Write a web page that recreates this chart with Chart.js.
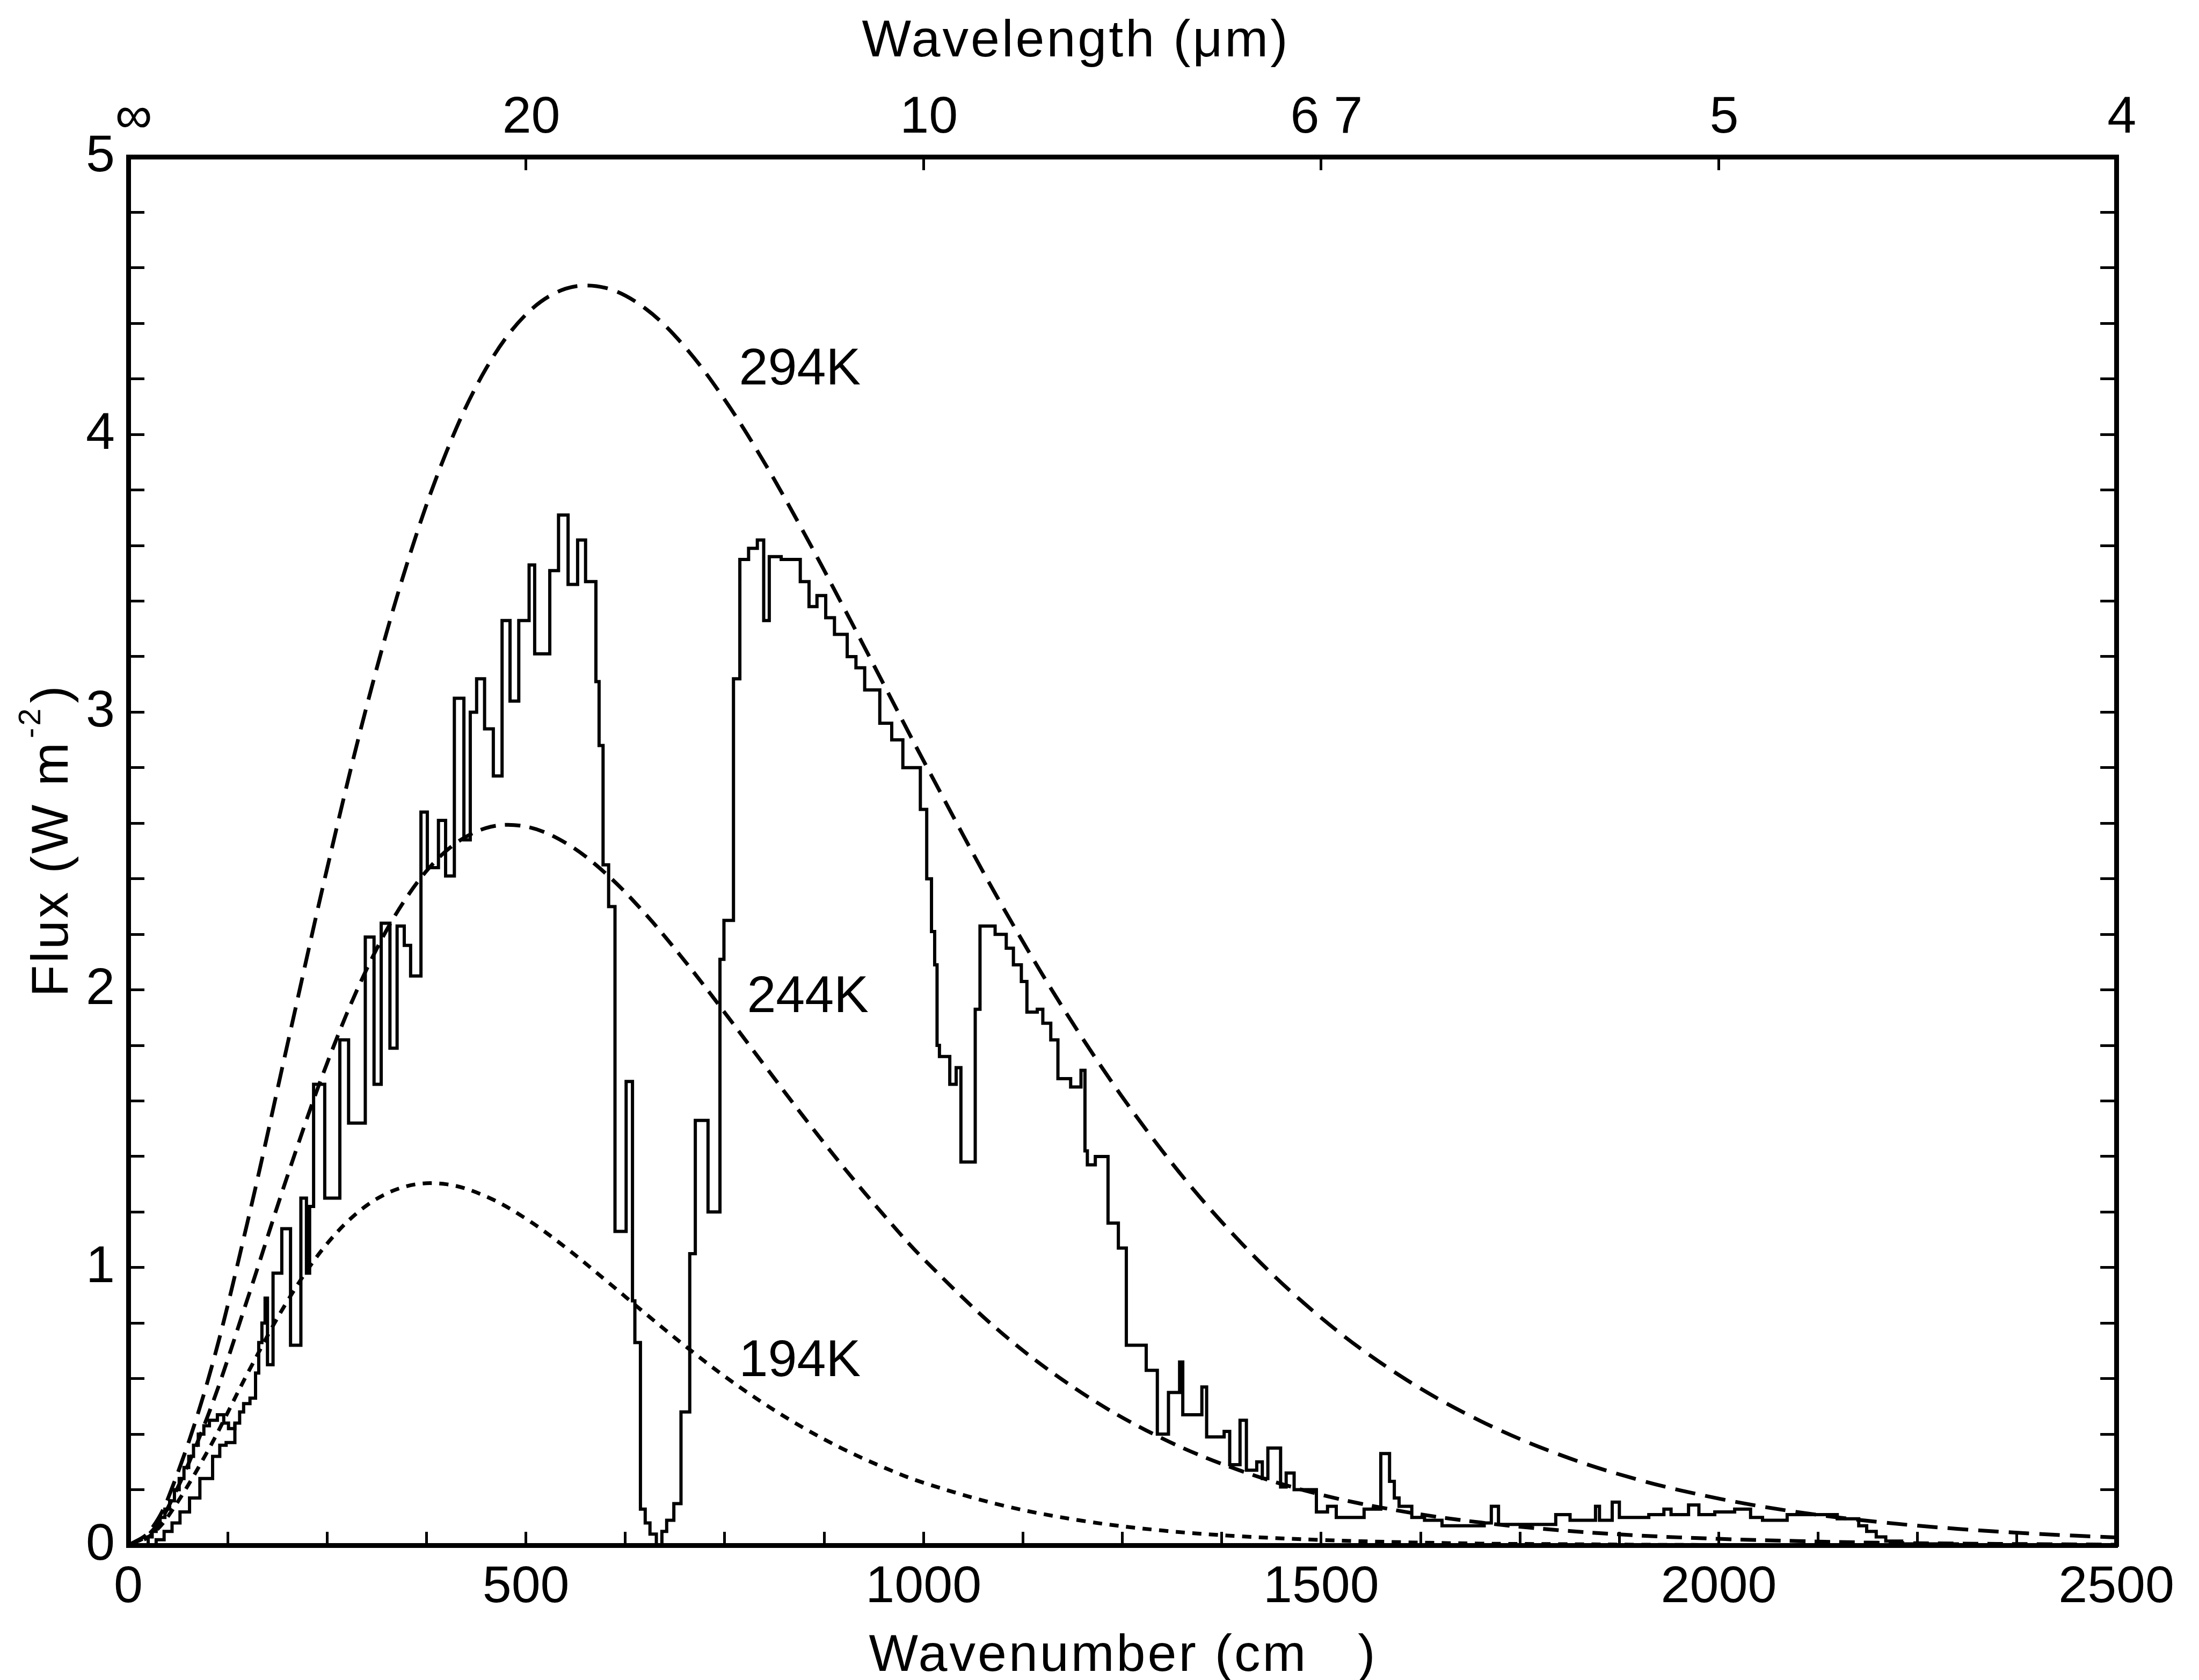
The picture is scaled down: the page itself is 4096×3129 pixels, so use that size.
<!DOCTYPE html>
<html lang="en">
<head>
<meta charset="UTF-8">
<title>Flux spectrum</title>
<script src="https://cdn.jsdelivr.net/npm/chart.js"></script>
<style>
  html, body { margin: 0; padding: 0; background: #fff; overflow: hidden; }
  #wrap { width: 4096px; height: 3129px; }
</style>
</head>
<body>
<div id="wrap"><canvas id="fluxChart" width="4096" height="3129"></canvas></div>
<script>
// measured spectrum, step starts (cm-1) and flux (W m-2)
const specNu = [20,25,30,35,40,46,52,58,64,70,76,82,88,95,102,112,120,126,134,140,
  145,153,160,164,168,172,175,182,193,204,217,224,228,233,247,266,277,298,309,318,
  329,338,347,355,368,376,390,399,410,422,430,438,448,459,470,480,491,504,511,530,
  541,553,565,575,588,592,597,604,612,626,634,637,644,650,656,664,671,677,686,695,
  706,713,729,744,749,761,769,780,791,799,806,821,845,856,866,877,888,904,915,926,
  945,960,974,996,1004,1010,1014,1017,1020,1033,1041,1047,1065,1071,1090,1104,1113,1123,1130,1143,
  1150,1160,1169,1185,1198,1203,1206,1216,1232,1245,1255,1280,1294,1308,1322,1326,1350,1356,1378,1385,
  1398,1406,1419,1426,1433,1449,1456,1466,1494,1508,1519,1554,1575,1586,1592,1598,1614,1630,1652,1705,
  1714,1723,1795,1813,1845,1850,1866,1875,1912,1931,1940,1962,1975,1995,2020,2040,2055,2086,2149,2176,
  2186,2198,2210,2230,2300,2500];
const specFlux = [0,0.03,0.05,0.08,0.10,0.13,0.16,0.20,0.24,0.28,0.32,0.36,0.40,0.43,0.45,0.47,0.44,0.42,0.44,0.48,
  0.51,0.53,0.62,0.73,0.80,0.89,0.65,0.98,1.14,0.72,1.25,0.98,1.22,1.66,1.25,1.82,1.52,2.19,1.66,2.24,
  1.79,2.23,2.16,2.05,2.64,2.44,2.61,2.41,3.05,2.54,3.00,3.12,2.94,2.77,3.33,3.04,3.33,3.53,3.21,3.51,
  3.71,3.46,3.62,3.47,3.11,2.88,2.45,2.30,1.13,1.67,0.88,0.73,0.13,0.08,0.04,0.00,0.05,0.09,0.15,0.48,
  1.05,1.53,1.20,2.11,2.25,3.12,3.55,3.59,3.62,3.33,3.56,3.55,3.47,3.38,3.42,3.34,3.28,3.20,3.16,3.08,
  2.96,2.90,2.80,2.65,2.40,2.21,2.09,1.80,1.76,1.66,1.72,1.38,1.93,2.23,2.20,2.15,2.09,2.03,1.92,1.93,
  1.88,1.82,1.68,1.65,1.71,1.42,1.37,1.40,1.16,1.07,0.72,0.63,0.40,0.55,0.66,0.47,0.57,0.39,0.41,0.29,
  0.45,0.27,0.30,0.24,0.35,0.21,0.26,0.20,0.12,0.14,0.10,0.13,0.33,0.23,0.17,0.14,0.10,0.09,0.07,0.08,
  0.14,0.075,0.11,0.09,0.14,0.09,0.155,0.10,0.11,0.13,0.11,0.145,0.11,0.12,0.13,0.10,0.09,0.11,0.095,0.07,
  0.05,0.03,0.015,0.005,0,0];
// lower branch of the measured trace at small wavenumbers
const specLowNu = [25,35,45,55,65,77,90,106,115,123,134];
const specLowFlux = [0,0.02,0.05,0.08,0.12,0.17,0.24,0.32,0.36,0.37,0.44];

// blackbody curves
const bbNu = [0,25,50,100,150,200,250,300,350,400,450,500,550,600,650,700,750,800,850,900,950,1000,
  1100,1200,1300,1400,1500,1600,1700,1800,1900,2000,2100,2200,2300,2400,2500];
const bb294 = [0,0.045,0.169,0.593,1.165,1.802,2.437,3.024,3.530,3.937,4.238,4.432,4.525,4.528,4.454,4.315,4.125,3.898,3.644,3.375,3.100,2.825,
  2.297,1.825,1.421,1.087,0.819,0.609,0.448,0.326,0.235,0.168,0.119,0.084,0.059,0.041,0.028];
const bb244 = [0,0.037,0.136,0.466,0.888,1.329,1.736,2.076,2.333,2.501,2.583,2.588,2.529,2.420,2.274,2.103,1.918,1.728,1.540,1.359,1.189,1.031,
  0.760,0.547,0.385,0.267,0.182,0.123,0.082,0.054,0.035,0.023,0.015,0.009,0.006,0.004,0.002];
const bb194 = [0,0.029,0.104,0.340,0.619,0.879,1.086,1.224,1.293,1.300,1.256,1.176,1.072,0.955,0.835,0.718,0.608,0.509,0.421,0.345,0.280,0.225,
  0.143,0.088,0.053,0.032,0.019,0.011,0.006,0.004,0.002,0.001,0.001,0,0,0,0];

const bbLabels = ['294K', '244K', '194K'];
const bbLabelNu = [768, 778, 768];
const bbLabelFlux = [4.18, 1.92, 0.61];
const topTickLabels = ['\u221E', '20', '10', '6 7', '5', '4'];

const FONT = '"Liberation Sans", Arial, Helvetica, sans-serif';
Chart.defaults.font.family = FONT;
Chart.defaults.color = '#000';

function pts(xs, ys) {
  return xs.map((x, i) => ({ x: x, y: ys[i] }));
}

const axisFont = { family: FONT, size: 97 };
const tickGrid = (len) => ({ drawOnChartArea: false, drawTicks: true, tickLength: len, tickWidth: 5, tickColor: '#000', color: '#000' });
const axisBorder = { display: true, color: '#000', width: 9 };

// titles and curve labels
const textPlugin = {
  id: 'fluxText',
  afterDraw(chart) {
    const ctx = chart.ctx;
    const xs = chart.scales.x;
    const ys = chart.scales.y;
    ctx.save();
    ctx.fillStyle = '#000';
    ctx.font = '97px ' + FONT;
    ctx.textBaseline = 'alphabetic';
    ctx.textAlign = 'left';
    bbLabels.forEach((t, i) => {
      ctx.fillText(t, xs.getPixelForValue(bbLabelNu[i]), ys.getPixelForValue(bbLabelFlux[i]));
    });

    ctx.letterSpacing = '4px';
    ctx.textAlign = 'center';
    ctx.fillText('Wavelength (\u03BCm)', 2004, 105);
    ctx.fillText('Wavenumber (cm   )', 2092, 3112);

    // y title, rotated, with superscript
    const mainTxt = 'Flux (W m';
    const w1 = ctx.measureText(mainTxt).width;
    ctx.font = '58px ' + FONT;
    const w2 = ctx.measureText('-2').width;
    ctx.font = '97px ' + FONT;
    const w3 = ctx.measureText(')').width;
    const total = w1 + w2 + w3 + 10;
    ctx.translate(126, 1565 + total / 2);
    ctx.rotate(-Math.PI / 2);
    ctx.textAlign = 'left';
    ctx.fillText(mainTxt, 0, 0);
    ctx.font = '58px ' + FONT;
    ctx.fillText('-2', w1 + 4, -51);
    ctx.font = '97px ' + FONT;
    ctx.fillText(')', w1 + w2 + 10, 0);
    ctx.restore();
  }
};

const ctx = document.getElementById('fluxChart').getContext('2d');
new Chart(ctx, {
  type: 'line',
  data: {
    datasets: [
      {
        label: 'spectrum',
        data: pts(specNu, specFlux),
        stepped: true,
        borderColor: '#000',
        borderWidth: 6,
        pointRadius: 0,
        fill: false
      },
      {
        label: 'spectrum low',
        data: pts(specLowNu, specLowFlux),
        stepped: true,
        borderColor: '#000',
        borderWidth: 6,
        pointRadius: 0,
        fill: false
      },
      {
        label: '294K',
        data: pts(bbNu, bb294),
        borderColor: '#000',
        borderWidth: 7,
        borderDash: [38, 19],
        tension: 0.35,
        pointRadius: 0,
        fill: false
      },
      {
        label: '244K',
        data: pts(bbNu, bb244),
        borderColor: '#000',
        borderWidth: 7,
        borderDash: [29, 17],
        tension: 0.35,
        pointRadius: 0,
        fill: false
      },
      {
        label: '194K',
        data: pts(bbNu, bb194),
        borderColor: '#000',
        borderWidth: 7,
        borderDash: [17, 14],
        tension: 0.35,
        pointRadius: 0,
        fill: false
      }
    ]
  },
  options: {
    responsive: false,
    animation: false,
    devicePixelRatio: 1,
    events: [],
    layout: { padding: 0 },
    plugins: { legend: { display: false }, tooltip: { enabled: false } },
    scales: {
      x: {
        type: 'linear', position: 'bottom', min: 0, max: 2500,
        afterFit: (s) => { s.height = 251; },
        ticks: {
          stepSize: 125, autoSkip: false, maxRotation: 0, padding: 46, font: axisFont, color: '#000',
          callback: (v) => (v % 500 === 0 ? String(v) : '')
        },
        grid: tickGrid(-25),
        border: axisBorder
      },
      x2: {
        type: 'linear', axis: 'x', position: 'top', min: 0, max: 2500,
        afterFit: (s) => { s.height = 292; },
        ticks: {
          stepSize: 500, autoSkip: false, maxRotation: 0, padding: 39, labelOffset: 10, font: axisFont, color: '#000',
          callback: (v, i) => topTickLabels[i]
        },
        grid: tickGrid(-25),
        border: axisBorder
      },
      y: {
        type: 'linear', position: 'left', min: 0, max: 5,
        afterFit: (s) => { s.width = 239; },
        ticks: {
          stepSize: 0.2, autoSkip: false, padding: 55, font: axisFont, color: '#000',
          callback: (v) => (Math.abs(v - Math.round(v)) < 1e-6 ? String(Math.round(v)) : '')
        },
        grid: tickGrid(-30),
        border: axisBorder
      },
      y2: {
        type: 'linear', axis: 'y', position: 'right', min: 0, max: 5,
        afterFit: (s) => { s.width = 130; },
        ticks: { stepSize: 0.2, autoSkip: false, display: false },
        grid: tickGrid(-30),
        border: axisBorder
      }
    }
  },
  plugins: [textPlugin]
});
</script>
</body>
</html>
